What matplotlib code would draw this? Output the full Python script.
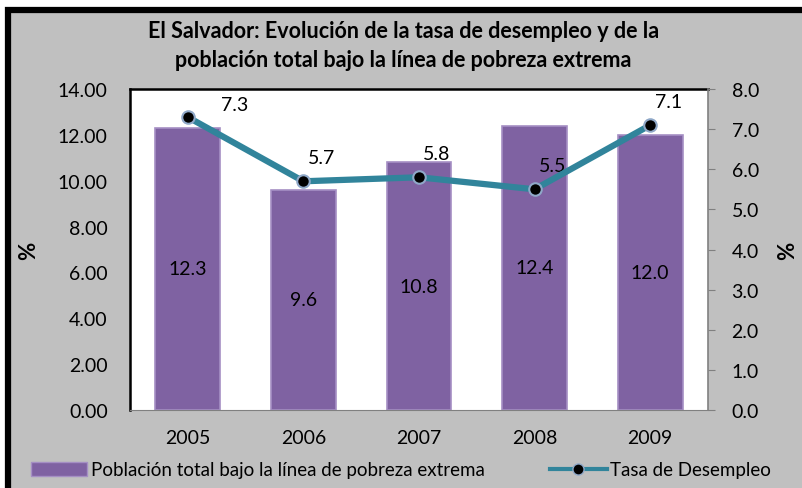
import matplotlib
matplotlib.use('Agg')
from matplotlib import pyplot as plt
from matplotlib.patches import Rectangle
from matplotlib.lines import Line2D

years = ['2005', '2006', '2007', '2008', '2009']
pobreza = [12.3, 9.6, 10.8, 12.4, 12.0]
desempleo = [7.3, 5.7, 5.8, 5.5, 7.1]

plt.rcParams['font.family'] = ['Lato', 'DejaVu Sans']

fig = plt.figure(figsize=(8.02, 4.89), dpi=100)
fig.patch.set_facecolor('white')

# gray chart area with black frame
fig.add_artist(Rectangle((8/802, -0.02), 1.0, 1 - 11/489 + 0.02, transform=fig.transFigure,
                         facecolor='#C0C0C0', edgecolor='black', linewidth=4.5, zorder=-10))

ax = fig.add_axes([130/802, 1 - 411/489, 578/802, 321/489])
ax.set_facecolor('white')
x = list(range(len(years)))
ax.bar(x, pobreza, width=0.56, color='#7F62A2', edgecolor='#A58FC4', linewidth=1.2, zorder=2)
ax.set_ylim(0, 14)
ax.set_xlim(-0.5, 4.5)
ax.set_yticks([0, 2, 4, 6, 8, 10, 12, 14])
ax.set_yticklabels([f'{v:.2f}' for v in ax.get_yticks()])
ax.set_xticks(x)
ax.set_xticklabels(years)
ax.tick_params(axis='y', length=0, labelsize=14, pad=16)
ax.tick_params(axis='x', length=0, labelsize=14, pad=14)
ax.spines['left'].set_color('black')
ax.spines['top'].set_color('black')
ax.spines['left'].set_linewidth(1.8)
ax.spines['top'].set_linewidth(1.8)
ax.spines['bottom'].set_color('#808080')
ax.spines['right'].set_visible(False)
for i, v in enumerate(pobreza):
    ax.text(i, v / 2, f'{v:.1f}', ha='center', va='center', fontsize=14, zorder=5)
ax.set_ylabel('%', fontsize=16, fontweight='bold')
ax.yaxis.set_label_coords(-0.157, 0.5)

ax2 = ax.twinx()
ax2.plot(x, desempleo, color='#31849B', linewidth=4.5, marker='o', markersize=9,
         markerfacecolor='black', markeredgecolor='#8FA8C8', markeredgewidth=1.5, zorder=4)
ax2.set_ylim(0, 8)
ax2.set_yticks([0, 1, 2, 3, 4, 5, 6, 7, 8])
ax2.set_yticklabels([f'{v:.1f}' for v in ax2.get_yticks()])
ax2.tick_params(axis='y', length=5, color='#808080', labelsize=14, pad=12)
for s in ['left', 'top', 'bottom']:
    ax2.spines[s].set_visible(False)
ax2.spines['right'].set_color('#808080')
ax2.spines['right'].set_linewidth(1.2)
ax2.set_ylabel('%', fontsize=16, fontweight='bold')
ax2.yaxis.set_label_coords(1.12, 0.5)
for i, v in enumerate(desempleo):
    off = (34, 9) if i == 0 else (13, 17)
    ax2.annotate(f'{v:.1f}', (i, v), xytext=off, textcoords='offset points',
                 ha='center', va='center', fontsize=14)

fig.text(0.503, 1 - 46/489, 'El Salvador: Evolución de la tasa de desempleo y de la\npoblación total bajo la línea de pobreza extrema',
         ha='center', va='center', fontsize=15.5, fontweight='bold', linespacing=1.45)

handles = [Rectangle((0, 0), 1, 1, facecolor='#7F62A2', edgecolor='#A58FC4'),
           Line2D([], [], color='#31849B', linewidth=3, marker='o', markersize=8,
                  markerfacecolor='black', markeredgecolor='#8FA8C8')]
fig.legend(handles, ['Población total bajo la línea de pobreza extrema', 'Tasa de Desempleo'],
           loc='center', bbox_to_anchor=(0.5, 1 - 471/489), ncol=2, frameon=False,
           fontsize=13.5, handlelength=3, handletextpad=0.2, columnspacing=3.5)

fig.savefig('out.png', dpi=100, facecolor=fig.get_facecolor())
